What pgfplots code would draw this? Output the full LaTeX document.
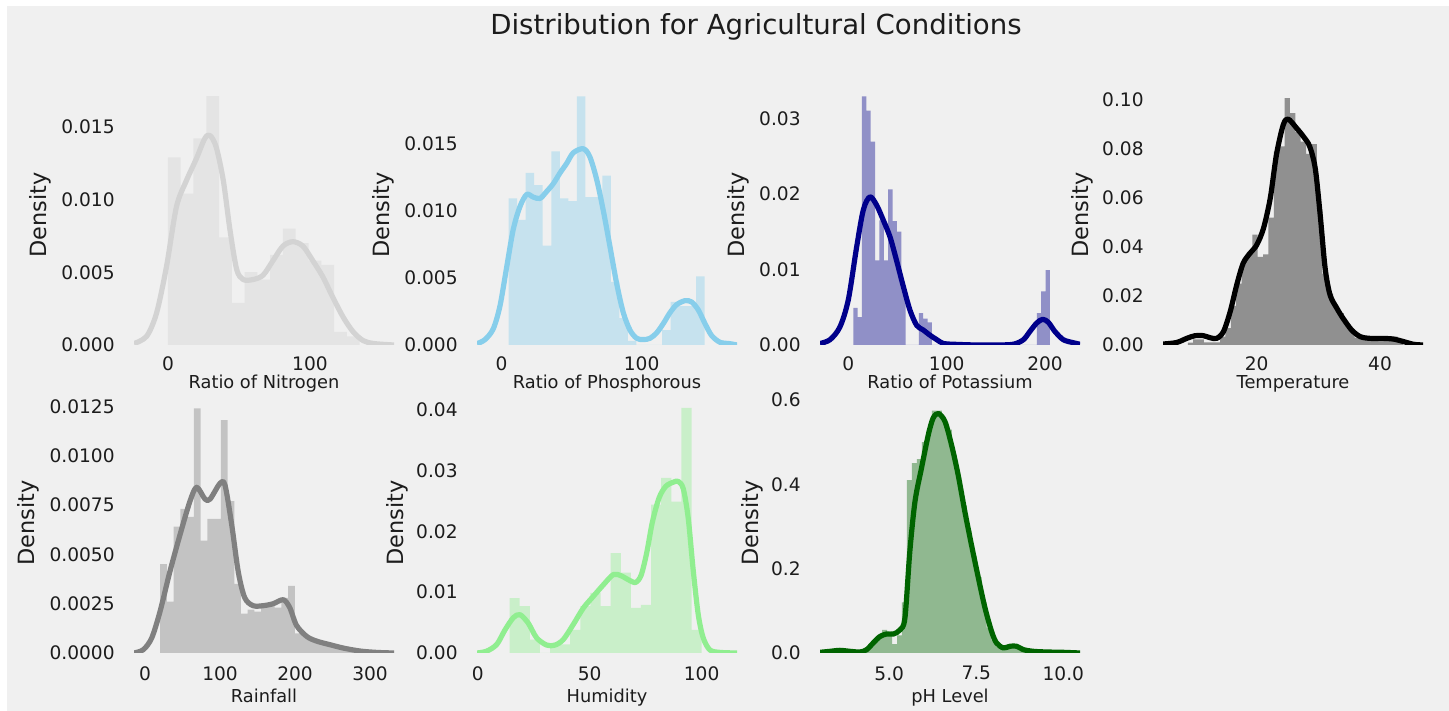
\documentclass[border=0pt]{standalone}
\usepackage{pgfplots}
\pgfplotsset{compat=1.18}
\usepackage{fontspec}
\setmainfont{DejaVu Sans}
\definecolor{bgc}{HTML}{F0F0F0}
\definecolor{txt}{HTML}{1C1C1C}
\definecolor{cN}{HTML}{D3D3D3}
\definecolor{cP}{HTML}{87CEEB}
\definecolor{cK}{HTML}{00008B}
\definecolor{cT}{HTML}{000000}
\definecolor{cR}{HTML}{808080}
\definecolor{cH}{HTML}{90EE90}
\definecolor{cpH}{HTML}{006400}
\pgfplotsset{
  dist/.style={
    scale only axis, width=130pt, height=130pt, ymin=0,
    axis line style={draw=none}, tick style={draw=none}, major tick length=0pt,
    scaled ticks=false, anchor=south west,
    tick label style={font=\fontsize{9.3}{11}\selectfont, text=txt, inner sep=0pt},
    yticklabel style={anchor=east, xshift=-9.5pt},
    xticklabel style={anchor=north},
    xlabel style={font=\fontsize{8.9}{10}\selectfont, text=txt, at={(axis description cs:0.5,0)}, anchor=base, inner sep=0pt},
    ylabel style={font=\fontsize{11.2}{13}\selectfont, text=txt, anchor=center, inner sep=0pt},
    ylabel={Density},
  },
  row1/.style={xticklabel style={yshift=-5.5pt}, xlabel style={yshift=-22pt}},
  row2/.style={xticklabel style={yshift=-6.5pt}, xlabel style={yshift=-25pt}},
  hist/.style={ybar interval, draw=none, fill=#1, fill opacity=0.4},
  kde/.style={smooth, line width=2.6pt, color=#1, line join=round},
}
\begin{document}
\begin{tikzpicture}
\useasboundingbox (0,0) rectangle (724.5pt,355.5pt);
\fill[white] (0,0) rectangle (724.5pt,355.5pt);
\fill[bgc] (3.5pt,0) rectangle (724.5pt,352.5pt);
\node[anchor=base, font=\fontsize{13.8}{16}\selectfont, text=txt] at (378pt,338pt) {Distribution for Agricultural Conditions};

% 1 Nitrogen
\begin{axis}[dist, row1, at={(67pt,183pt)}, xmin=-23.9, xmax=159.2, ymax=0.01787,
  xtick={0,100}, xticklabels={0,100},
  ytick={0,0.005,0.01,0.015}, yticklabels={0.000,0.005,0.010,0.015},
  xlabel={Ratio of Nitrogen}, ylabel style={at={(axis description cs:-0.3615,0.5)}}]
\addplot[hist=cN] coordinates {(0,0.0129) (9,0.0104) (18,0.0142) (27,0.0171) (36,0.0074) (45,0.0029) (54,0.0050) (63,0.0045) (72,0.0062) (81,0.0080) (90,0.0070) (99,0.0058) (108,0.0055) (117,0.0009) (126,0.0006) (135,0.0006)};
\addplot[kde=cN] coordinates {(-23.9,0.0001) (-15,0.0006) (-8,0.0022) (-1,0.0054) (6,0.0095) (13,0.0113) (20,0.0128) (26,0.0142) (29.6,0.0144) (34,0.0136) (39,0.0113) (43.7,0.0079) (48.4,0.0052) (53,0.0045) (60,0.0045) (67,0.0048) (74,0.0058) (81,0.0068) (88,0.0071) (95,0.0068) (102,0.0058) (109,0.0047) (116,0.0033) (123.5,0.0019) (130.5,0.0009) (137.5,0.0003) (145,0.0001) (159.2,0)};
\end{axis}

% 2 Phosphorous
\begin{axis}[dist, row1, at={(238.5pt,183pt)}, xmin=-17.6, xmax=168.1, ymax=0.01934,
  xtick={0,100}, xticklabels={0,100},
  ytick={0,0.005,0.01,0.015}, yticklabels={0.000,0.005,0.010,0.015},
  xlabel={Ratio of Phosphorous}, ylabel style={at={(axis description cs:-0.3615,0.5)}}]
\addplot[hist=cP] coordinates {(5,0.0109) (11.087,0.0093) (17.174,0.0128) (23.261,0.0119) (29.348,0.0074) (35.435,0.0144) (41.522,0.0109) (47.609,0.0107) (53.696,0.0185) (59.783,0.0110) (65.870,0.0110) (71.957,0.0126) (78.043,0.0047) (84.130,0.0020) (90.217,0.0003) (96.304,0) (102.391,0) (108.478,0) (114.565,0.0011) (120.652,0.0032) (126.739,0.0029) (132.826,0.0029) (138.913,0.0051) (145,0.0051)};
\addplot[kde=cP] coordinates {(-17.6,0.0001) (-11.9,0.0004) (-6,0.0012) (-1.2,0.0029) (3.6,0.0058) (8.3,0.0086) (13.1,0.0103) (17.9,0.0112) (22.6,0.0110) (27.4,0.0109) (32,0.0114) (36.9,0.0120) (41.7,0.0128) (46.4,0.0135) (51.2,0.0143) (58.3,0.0146) (63,0.0140) (67.9,0.0123) (72.6,0.0100) (77.4,0.0073) (82.1,0.0046) (86.9,0.0024) (91.7,0.0011) (96.4,0.0005) (101.2,0.0004) (106,0.0005) (110.7,0.0009) (115.5,0.0016) (120.2,0.0024) (125,0.0030) (131,0.0033) (135.7,0.0032) (140.5,0.0026) (145.2,0.0016) (150,0.0007) (156,0.0002) (163,0.0001) (168.1,0)};
\end{axis}

% 3 Potassium
\begin{axis}[dist, row1, at={(410pt,183pt)}, xmin=-28.8, xmax=235.6, ymax=0.0344,
  xtick={0,100,200}, xticklabels={0,100,200},
  ytick={0,0.01,0.02,0.03}, yticklabels={0.00,0.01,0.02,0.03},
  xlabel={Ratio of Potassium}, ylabel style={at={(axis description cs:-0.315,0.5)}}]
\addplot[hist=cK] coordinates {(5,0.0049) (9.444,0.0037) (13.889,0.0329) (18.333,0.0310) (22.778,0.0269) (27.222,0.0112) (31.667,0.0165) (36.111,0.0112) (40.556,0.0206) (45,0.0164) (49.444,0.0150) (53.889,0.0075) (58.333,0) (71.667,0.0042) (76.111,0.0035) (80.556,0.0030) (85,0) (191.667,0.0042) (196.111,0.0071) (200.556,0.0099) (205,0.0099)};
\addplot[kde=cK] coordinates {(-28.8,0.0002) (-18.6,0.0007) (-8.5,0.0024) (0,0.006) (8.5,0.013) (15.3,0.0179) (22,0.0196) (28.8,0.0185) (35.6,0.0165) (42.4,0.0143) (49,0.0112) (56,0.0077) (62.7,0.0046) (69.5,0.0026) (76,0.0020) (83,0.0013) (90,0.0007) (96.6,0.0002) (106.8,0.0001) (130,0) (150,0) (167.8,0.0001) (178,0.0007) (184.7,0.0018) (191.5,0.0029) (197.6,0.0034) (203.4,0.0030) (210,0.0018) (218.6,0.0007) (228.8,0.0003) (235.6,0.0001)};
\end{axis}

% 4 Temperature
\begin{axis}[dist, row1, at={(581.5pt,183pt)}, xmin=4.81, xmax=46.97, ymax=0.1061,
  xtick={20,40}, xticklabels={20,40},
  ytick={0,0.02,0.04,0.06,0.08,0.1}, yticklabels={0.00,0.02,0.04,0.06,0.08,0.10},
  xlabel={Temperature}, ylabel style={at={(axis description cs:-0.3115,0.5)}}]
\addplot[hist=cT] coordinates {(8.826,0.0010) (9.698,0.0023) (10.570,0.0023) (11.443,0.0011) (12.315,0.0011) (13.187,0.0011) (14.059,0.0034) (14.931,0.0069) (15.804,0.0160) (16.676,0.0250) (17.548,0.0340) (18.420,0.0380) (19.292,0.0450) (20.165,0.0360) (21.037,0.0370) (21.909,0.0520) (22.781,0.0790) (23.653,0.0810) (24.526,0.1007) (25.398,0.0946) (26.270,0.0870) (27.142,0.0830) (28.014,0.0780) (28.887,0.0820) (29.759,0.0550) (30.631,0.0290) (31.503,0.0210) (32.375,0.0160) (33.248,0.0130) (34.120,0.0085) (34.992,0.0065) (35.864,0.0030) (36.736,0.0025) (37.609,0.0023) (38.481,0.0023) (39.353,0.0023) (40.225,0.0023) (41.097,0.0023) (41.970,0.0034) (42.842,0.0011) (43.714,0.0011)};
\addplot[kde=cT] coordinates {(4.81,0.0004) (7,0.0010) (8.65,0.0027) (10,0.0038) (11.35,0.0038) (12.4,0.0030) (13.5,0.0027) (14.6,0.0054) (15.7,0.0136) (16.76,0.0245) (17.8,0.0333) (18.9,0.0374) (20,0.0408) (21.1,0.0476) (22.2,0.0599) (23.2,0.0776) (24.3,0.0898) (25.1,0.0922) (26.5,0.0884) (27.6,0.0850) (28.6,0.0810) (29.5,0.0720) (30.3,0.0530) (31.1,0.0313) (31.9,0.0204) (33,0.0150) (34,0.0109) (35.4,0.0061) (36.8,0.0034) (38.4,0.0027) (40.5,0.0027) (42.2,0.0024) (43.8,0.0014) (45.4,0.0003) (46.97,0)};
\end{axis}

% 5 Rainfall
\begin{axis}[dist, row2, at={(67pt,29pt)}, xmin=-14.7, xmax=332, ymax=0.01318,
  xtick={0,100,200,300}, xticklabels={0,100,200,300},
  ytick={0,0.0025,0.005,0.0075,0.01,0.0125}, yticklabels={0.0000,0.0025,0.0050,0.0075,0.0100,0.0125},
  xlabel={Rainfall}, ylabel style={at={(axis description cs:-0.4077,0.5)}}]
\addplot[hist=cR] coordinates {(20.21,0.0045) (29.19,0.0026) (38.17,0.0064) (47.15,0.0073) (56.13,0.0069) (65.11,0.0124) (74.09,0.0057) (83.07,0.0068) (92.05,0.0068) (101.03,0.0118) (110.01,0.0077) (118.99,0.0035) (127.97,0.0020) (136.95,0.0022) (145.93,0.0021) (154.91,0.0025) (163.89,0.0025) (172.87,0.0023) (181.85,0.0028) (190.83,0.0034) (199.81,0.0010) (208.79,0.0009) (217.77,0.0007) (226.75,0.0006) (235.73,0.0005) (244.71,0.0004) (253.69,0.0003) (262.67,0.0003) (271.65,0.0002) (280.63,0.0001) (289.61,0.0001) (298.59,0.0001)};
\addplot[kde=cR] coordinates {(-14.7,0) (-2.2,0.00017) (8.9,0.00076) (20,0.0021) (33,0.0041) (46.7,0.0060) (60,0.0077) (68.9,0.0084) (80,0.0078) (86.7,0.0078) (100,0.0086) (106.7,0.0085) (115.6,0.0065) (124.4,0.0041) (133,0.0028) (144,0.0024) (157.8,0.0024) (171,0.0025) (184.4,0.0027) (193,0.0023) (202,0.0014) (215.6,0.00084) (229,0.0006) (246.7,0.00042) (264.4,0.00025) (286.7,0.0001) (308.9,0.00003) (332,0)};
\end{axis}

% 6 Humidity
\begin{axis}[dist, row2, at={(238.5pt,29pt)}, xmin=-0.3, xmax=115.8, ymax=0.04274,
  xtick={0,50,100}, xticklabels={0,50,100},
  ytick={0,0.01,0.02,0.03,0.04}, yticklabels={0.00,0.01,0.02,0.03,0.04},
  xlabel={Humidity}, ylabel style={at={(axis description cs:-0.3077,0.5)}}]
\addplot[hist=cH] coordinates {(14.26,0.0090) (18.77,0.0077) (23.28,0.0022) (27.80,0) (32.31,0.0012) (36.82,0.0014) (41.33,0.0038) (45.84,0.0077) (50.36,0.0099) (54.87,0.0077) (59.38,0.0164) (63.89,0.0132) (68.40,0.0074) (72.92,0.0079) (77.43,0.0244) (81.94,0.0288) (86.45,0.0249) (90.96,0.0403) (95.48,0.0038) (99.99,0.0038)};
\addplot[kde=cH] coordinates {(-0.3,0) (4,0.0003) (8.5,0.0014) (12.2,0.0038) (15.9,0.0058) (18.9,0.0063) (22.6,0.0049) (26.3,0.0025) (30.8,0.0013) (34.5,0.0013) (38.2,0.0022) (42.7,0.0047) (47.2,0.0074) (51.6,0.0093) (56.1,0.0112) (60.6,0.0129) (64,0.0127) (67.5,0.0120) (70.5,0.0116) (73,0.0128) (75.5,0.0165) (78,0.0215) (81,0.0255) (84,0.0274) (87.5,0.0281) (89.6,0.0282) (91.8,0.0270) (94,0.0222) (96.3,0.0134) (98.5,0.0063) (100.7,0.0025) (103.7,0.0005) (108.2,0.0001) (115.8,0)};
\end{axis}

% 7 pH
\begin{axis}[dist, row2, at={(410pt,29pt)}, xmin=3.01, xmax=10.48, ymax=0.6166,
  xtick={5,7.5,10}, xticklabels={5.0,7.5,10.0},
  ytick={0,0.2,0.4,0.6}, yticklabels={0.0,0.2,0.4,0.6},
  xlabel={pH Level}, ylabel style={at={(axis description cs:-0.2615,0.5)}}]
\addplot[hist=cpH] coordinates {(3.505,0.007) (3.648,0.007) (3.791,0) (3.934,0) (4.077,0) (4.221,0) (4.364,0.014) (4.507,0.028) (4.650,0.042) (4.793,0.055) (4.936,0.042) (5.079,0.021) (5.222,0.042) (5.365,0.12) (5.508,0.41) (5.652,0.45) (5.795,0.46) (5.938,0.50) (6.081,0.53) (6.224,0.575) (6.367,0.575) (6.510,0.55) (6.653,0.53) (6.796,0.47) (6.939,0.41) (7.083,0.35) (7.226,0.29) (7.369,0.23) (7.512,0.18) (7.655,0.12) (7.798,0.06) (7.941,0.03) (8.084,0.014) (8.227,0.014) (8.370,0.021) (8.514,0.021) (8.657,0.014) (8.800,0.007) (8.943,0.007) (9.086,0.003) (9.229,0.003) (9.372,0) (9.515,0.003) (9.658,0) (9.801,0.003) (9.944,0.003)};
\addplot[kde=cpH] coordinates {(3.01,0.0016) (3.3,0.004) (3.58,0.0063) (3.87,0.004) (4.16,0.0024) (4.35,0.0079) (4.54,0.024) (4.73,0.039) (4.92,0.045) (5.12,0.045) (5.31,0.055) (5.45,0.083) (5.59,0.24) (5.74,0.36) (5.93,0.44) (6.12,0.517) (6.26,0.557) (6.41,0.568) (6.6,0.549) (6.79,0.493) (6.98,0.422) (7.17,0.336) (7.36,0.257) (7.56,0.178) (7.75,0.107) (7.94,0.051) (8.08,0.024) (8.28,0.012) (8.47,0.016) (8.66,0.016) (8.85,0.008) (9.14,0.004) (9.52,0.0024) (10.0,0.0016) (10.48,0)};
\end{axis}
\end{tikzpicture}
\end{document}
